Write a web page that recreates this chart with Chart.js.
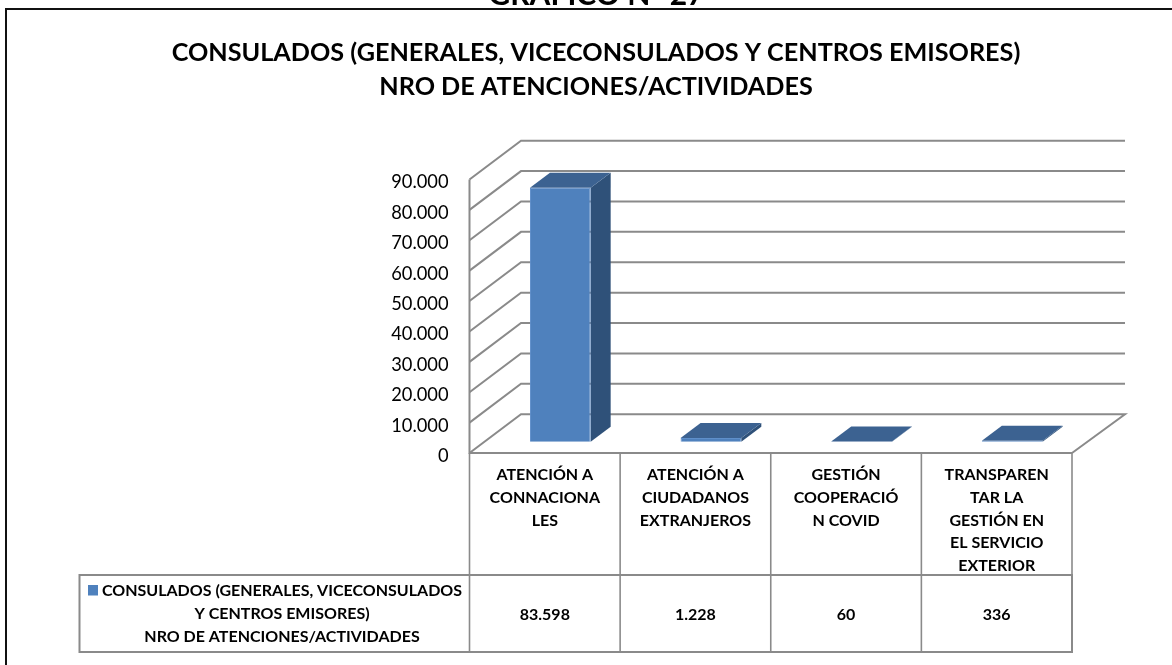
<!DOCTYPE html>
<html><head><meta charset="utf-8">
<style>html,body{margin:0;padding:0;background:#fff;overflow:hidden}#w{width:1172px;height:665px;position:relative}</style>
<script src="https://cdn.jsdelivr.net/npm/chart.js@4"></script>
</head><body><div id="w"><canvas id="c" width="1172" height="665"></canvas></div>
<script>
const categories = [
  ["ATENCIÓN A","CONNACIONA","LES"],
  ["ATENCIÓN A","CIUDADANOS","EXTRANJEROS"],
  ["GESTIÓN","COOPERACIÓ","N COVID"],
  ["TRANSPAREN","TAR LA","GESTIÓN EN","EL SERVICIO","EXTERIOR"]
];
const seriesValues = [83598, 1228, 60, 336];
const seriesName = ["CONSULADOS (GENERALES, VICECONSULADOS","Y CENTROS EMISORES)","NRO DE ATENCIONES/ACTIVIDADES"];
const titleLines = ["CONSULADOS (GENERALES, VICECONSULADOS Y CENTROS EMISORES)","NRO DE ATENCIONES/ACTIVIDADES"];
const clippedHeading = "GRÁFICO Nº 27";
const FONT = "Lato, sans-serif";
const GRID = "#8a8a8a";
const fmt = v => String(v).replace(/\B(?=(\d{3})+$)/g, ".");
const WALL = {dx:51.5, dy:-38.8, rx:53};
const BAR = {dx:15.5, dy:-11.3, sx:20, sy:-15};

const scene = {
  id:"scene",
  beforeDraw(chart){
    const {ctx} = chart;
    ctx.save();
    ctx.strokeStyle="#111"; ctx.lineWidth=2;
    ctx.beginPath(); ctx.moveTo(6,665); ctx.lineTo(6,9); ctx.lineTo(1172,9); ctx.stroke();
    ctx.fillStyle="#000"; ctx.font="700 30px "+FONT; ctx.textAlign="center"; ctx.textBaseline="alphabetic";
    ctx.fillText(clippedHeading,596.5,5);
    ctx.restore();
  },
  beforeDatasetsDraw(chart){
    const {ctx,chartArea:a,scales:{y}} = chart;
    ctx.save();
    ctx.strokeStyle=GRID; ctx.lineWidth=2; ctx.lineJoin="miter";
    y.ticks.forEach(t=>{
      const p=y.getPixelForValue(t.value);
      ctx.beginPath(); ctx.moveTo(a.left,p); ctx.lineTo(a.left+WALL.dx,p+WALL.dy); ctx.lineTo(a.right+WALL.rx,p+WALL.dy);
      if(t.value===0){ctx.lineTo(a.right,p);}
      ctx.stroke();
    });
    ctx.beginPath(); ctx.moveTo(a.left,a.top); ctx.lineTo(a.left,a.bottom); ctx.lineTo(a.right,a.bottom); ctx.stroke();
    // data table
    const top=a.bottom, mid=575, bot=652, left=79.5;
    ctx.lineWidth=1.6;
    const n=categories.length, w=(a.right-a.left)/n;
    for(let i=0;i<=n;i++){const x=a.left+i*w; ctx.beginPath(); ctx.moveTo(x,top); ctx.lineTo(x,bot); ctx.stroke();}
    ctx.lineWidth=2;
    ctx.beginPath(); ctx.moveTo(left,mid); ctx.lineTo(a.right,mid); ctx.lineTo(a.right,bot); ctx.lineTo(left,bot); ctx.closePath(); ctx.stroke();
    ctx.fillStyle="#000"; ctx.textAlign="center"; ctx.textBaseline="middle"; ctx.font="700 16px "+FONT;
    seriesValues.forEach((v,i)=>ctx.fillText(fmt(v),chart.scales.x.getPixelForValue(i),615));
    ctx.fillStyle="#4F81BD"; ctx.fillRect(88,585,10,10.5);
    ctx.fillStyle="#000";
    [591,614,637].forEach((py,i)=>ctx.fillText(seriesName[i],282,py));
    ctx.restore();
    ctx.save();
    ctx.translate(BAR.dx,BAR.dy);
  },
  beforeDatasetDraw(chart){
    const {ctx}=chart;
    chart.getDatasetMeta(0).data.forEach(b=>{
      const l=b.x-b.width/2,r=b.x+b.width/2,t=b.y,bt=b.base;
      ctx.fillStyle="#2F5179";
      ctx.beginPath(); ctx.moveTo(r,t); ctx.lineTo(r+BAR.sx,t+BAR.sy); ctx.lineTo(r+BAR.sx,bt+BAR.sy); ctx.lineTo(r,bt); ctx.closePath(); ctx.fill();
      ctx.fillStyle="#3C6291";
      ctx.beginPath(); ctx.moveTo(l,t); ctx.lineTo(l+BAR.sx,t+BAR.sy); ctx.lineTo(r+BAR.sx,t+BAR.sy); ctx.lineTo(r,t); ctx.closePath(); ctx.fill();
    });
  },
  afterDatasetsDraw(chart){chart.ctx.restore();}
};

new Chart(document.getElementById("c"),{
  type:"bar",
  data:{labels:categories,datasets:[{label:seriesName.join(" "),data:seriesValues,backgroundColor:"#4F81BD",borderColor:"#5f8fca",borderWidth:1,barPercentage:0.403,categoryPercentage:1,clip:false,yAxisID:"y"}]},
  plugins:[scene],
  options:{
    responsive:false,animation:false,
    layout:{padding:{left:20,right:0,top:0,bottom:0}},
    plugins:{
      legend:{display:false},tooltip:{enabled:false},
      title:{display:true,text:titleLines,color:"#000",font:{family:FONT,size:25.2,weight:"700",lineHeight:34/25.2},padding:{top:36,bottom:75.5}}
    },
    scales:{
      x:{offset:true,grid:{display:false},border:{display:false},
        ticks:{autoSkip:false,maxRotation:0,minRotation:0,color:"#000",padding:3,font:{family:FONT,size:16,weight:"700",lineHeight:22.6/16}},
        afterFit(s){s.height=212;}},
      y:{min:0,max:90000,grid:{display:false},border:{display:false},
        ticks:{stepSize:10000,color:"#000",padding:13,font:{family:FONT,size:18.3,lineHeight:6/18.3},callback:v=>["",fmt(v)]},
        afterFit(s){s.width=449.5;}},
      y2:{position:"right",min:0,max:1,display:true,grid:{display:false},border:{display:false},
        ticks:{display:false},afterFit(s){s.width=100;}}
    }
  }
});
</script></body></html>
